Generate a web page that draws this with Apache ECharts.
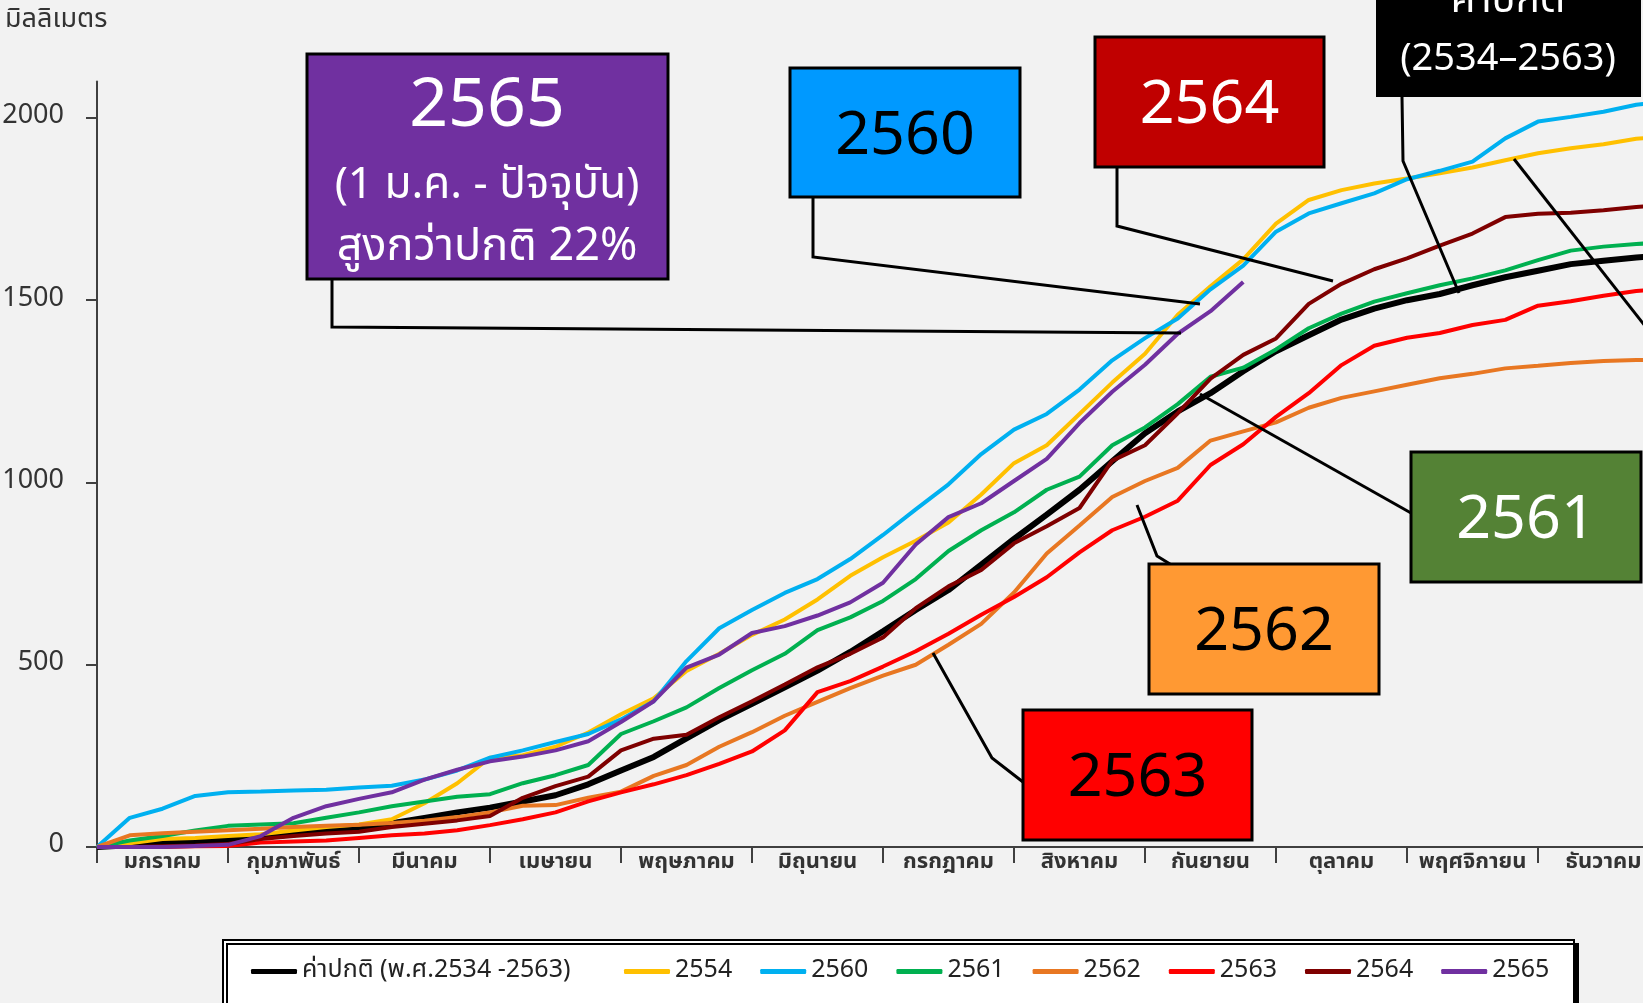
<!DOCTYPE html>
<html>
<head>
<meta charset="utf-8">
<script src="https://cdn.jsdelivr.net/npm/echarts@6/dist/echarts.min.js"></script>
<style>
  html, body { margin: 0; padding: 0; background: #f2f2f2; }
  #chart { width: 1643px; height: 1003px; }
</style>
</head>
<body>
<div id="chart"></div>
<script>
const FONT = "'Noto Sans Thai', 'Noto Sans', 'Open Sans', sans-serif"

const MONTHS = ['มกราคม','กุมภาพันธ์','มีนาคม','เมษายน','พฤษภาคม','มิถุนายน',
  'กรกฎาคม','สิงหาคม','กันยายน','ตุลาคม','พฤศจิกายน','ธันวาคม']
const Y_TICKS = [0, 500, 1000, 1500, 2000]

// position along the year in months (0 = 1 Jan, 12 = 31 Dec)
const MONTH_POS = [0,0.25,0.5,0.75,1,1.25,1.5,1.75,2,2.25,2.5,2.75,3,3.25,3.5,3.75,
  4,4.25,4.5,4.75,5,5.25,5.5,5.75,6,6.25,6.5,6.75,7,7.25,7.5,7.75,
  8,8.25,8.5,8.75,9,9.25,9.5,9.75,10,10.25,10.5,10.75,11,11.25,11.5,11.75,12]

// cumulative rainfall, mm
const NORMAL = [0,5,10,15, 20,27,35,43, 52,65,80,95, 108,125,142,172, 210,247,298,348,
  393,438,484,535, 592,650,705,775, 845,912,980,1058, 1135,1195,1245,1305,
  1360,1404,1447,1477, 1500,1517,1541,1563, 1581,1599,1608,1617, 1625]
const Y2554 = [0,10,22,25, 30,35,45,55, 62,76,120,175, 245,252,275,314, 364,408,483,530,
  582,624,679,744, 795,840,890,967, 1053,1102,1188,1274, 1353,1460,1538,1612,
  1710,1775,1802,1820, 1834,1848,1864,1884, 1903,1917,1928,1943, 1950]
const Y2560 = [0,80,105,140, 150,152,155,157, 163,168,185,210, 245,265,288,310, 350,400,510,600,
  650,697,735,790, 856,926,995,1078, 1145,1188,1255,1335, 1396,1450,1530,1595,
  1688,1738,1766,1793, 1832,1855,1880,1944, 1990,2003,2017,2036, 2048]
const Y2561 = [0,18,30,45, 58,62,65,80, 95,112,125,138, 145,175,197,225, 310,345,383,436,
  485,530,595,630, 675,735,812,869, 918,980,1016,1102, 1151,1215,1290,1315,
  1365,1423,1463,1496, 1519,1541,1560,1582, 1610,1636,1647,1654, 1660]
const Y2562 = [0,32,38,42, 46,50,55,58, 61,66,72,82, 95,113,115,135, 152,195,225,275,
  315,360,398,436, 470,500,555,612, 698,805,882,960, 1004,1040,1115,1140,
  1165,1205,1232,1250, 1268,1286,1298,1313, 1320,1328,1333,1336, 1337]
const Y2563 = [0,0,0,2, 3,12,15,18, 25,32,37,46, 60,76,95,125, 150,172,197,228,
  262,320,425,455, 495,537,585,637, 686,740,808,869, 906,950,1048,1105,
  1180,1245,1322,1375, 1397,1410,1432,1446, 1485,1497,1512,1525, 1532]
const Y2564 = [0,0,2,4, 8,22,30,37, 42,55,64,73, 85,135,167,193, 265,297,308,356,
  400,446,493,530, 575,655,715,760, 833,880,930,1060, 1102,1190,1285,1350,
  1395,1490,1545,1585, 1615,1650,1683,1728, 1737,1740,1747,1756, 1762]
const Y2565 = [0,0,0,3, 6,30,80,112, 132,150,185,212, 235,248,265,290, 343,400,492,528,
  587,606,635,671, 725,830,905,943, 1004,1065,1163,1249, 1323,1408,1470,1550]

const SERIES = [
  { name: 'ค่าปกติ (พ.ศ.2534 -2563)', values: NORMAL, color: '#000000', width: 6 },
  { name: '2554', values: Y2554, color: '#ffc000', width: 4 },
  { name: '2560', values: Y2560, color: '#00b0f0', width: 4 },
  { name: '2561', values: Y2561, color: '#00b050', width: 4 },
  { name: '2562', values: Y2562, color: '#e87722', width: 4 },
  { name: '2563', values: Y2563, color: '#ff0000', width: 4 },
  { name: '2564', values: Y2564, color: '#7f0000', width: 4 },
  { name: '2565', values: Y2565, color: '#7030a0', width: 4 },
]

function label(x, y, text, size, color) {
  return {
    type: 'text', z: 70, x, y,
    style: { text, fill: color, font: `${size}px ${FONT}`, textAlign: 'center', textVerticalAlign: 'middle' },
  }
}
// boxed year tag: rectangle plus centred number
function box(x, y, w, h, fill, text, color) {
  return [
    { type: 'rect', z: 60, shape: { x, y, width: w, height: h }, style: { fill, stroke: '#000', lineWidth: 3 } },
    label(x + w / 2, y + h / 2 + 9, text, 61, color),
  ]
}
function leader(points) {
  return { type: 'polyline', z: 55, shape: { points }, style: { stroke: '#000', lineWidth: 3, fill: null } }
}
function legendPart(left, names, gap) {
  return {
    left, top: 959, padding: 0,
    icon: 'roundRect', itemWidth: 46, itemHeight: 5, itemGap: gap,
    textStyle: { fontSize: 25, color: '#222', fontFamily: FONT },
    data: names,
  }
}

const chart = echarts.init(document.getElementById('chart'))

chart.setOption({
  backgroundColor: '#f2f2f2',
  animation: false,
  grid: { left: 97, right: -26, top: 81.5, bottom: 156, outerBoundsMode: 'none', containLabel: false },
  xAxis: [
    {
      type: 'value', min: 0, max: 12, interval: 1,
      axisLine: { lineStyle: { color: '#404040', width: 2 } },
      axisTick: { length: 16, lineStyle: { color: '#404040', width: 2 } },
      axisLabel: { show: false },
      splitLine: { show: false },
    },
    {
      type: 'category', position: 'bottom', data: MONTHS, boundaryGap: true,
      axisLine: { show: false }, axisTick: { show: false },
      axisLabel: { interval: 0, margin: 6, fontSize: 22, fontWeight: 'bold', color: '#333', fontFamily: FONT },
    },
  ],
  yAxis: {
    type: 'value', min: 0, max: 2100,
    axisLine: { show: true, lineStyle: { color: '#404040', width: 2 } },
    axisTick: { show: true, length: 11, customValues: Y_TICKS, lineStyle: { color: '#404040', width: 2 } },
    axisLabel: {
      customValues: Y_TICKS, margin: 33, fontSize: 27, color: '#333', fontFamily: FONT,
      formatter: v => String(v),
    },
    splitLine: { show: false },
  },
  legend: [
    legendPart(251, [SERIES[0].name], 30),
    legendPart(624, SERIES.slice(1).map(s => s.name), 28),
  ],
  series: SERIES.map(s => ({
    name: s.name,
    type: 'line',
    xAxisIndex: 0,
    showSymbol: false,
    color: s.color,
    lineStyle: { color: s.color, width: s.width },
    data: s.values.map((v, i) => [MONTH_POS[i], v]),
  })),
  graphic: [
    { type: 'text', x: 5, y: 22, style: { text: 'มิลลิเมตร', fill: '#333', font: `27px ${FONT}`, textVerticalAlign: 'middle' } },
    // legend frame
    {
      type: 'rect', z: 1, shape: { x: 223, y: 940, width: 1351, height: 80 },
      style: { fill: '#fff', stroke: '#000', lineWidth: 2, shadowColor: '#000', shadowOffsetX: 4, shadowOffsetY: 4, shadowBlur: 0 },
    },
    // leader lines
    leader([[332, 279], [332, 327], [1181, 333]]),
    leader([[813, 197], [813, 257], [1200, 304]]),
    leader([[1117, 167], [1117, 226], [1333, 281]]),
    leader([[1402, 97], [1403, 161], [1459, 293]]),
    leader([[1411, 513], [1200, 394]]),
    leader([[1137, 505], [1157, 556], [1170, 564]]),
    leader([[933, 653], [992, 758], [1023, 782]]),
    leader([[1514, 159], [1660, 345]]),
    // callout boxes
    { type: 'rect', z: 60, shape: { x: 307, y: 54, width: 361, height: 225 }, style: { fill: '#7030a0', stroke: '#000', lineWidth: 3 } },
    label(487, 112, '2565', 68, '#fff'),
    label(487, 189, '(1 ม.ค. - ปัจจุบัน)', 44, '#fff'),
    label(487, 251, 'สูงกว่าปกติ 22%', 45, '#fff'),
    ...box(790, 68, 230, 129, '#0099ff', '2560', '#000'),
    ...box(1095, 37, 229, 130, '#c00000', '2564', '#fff'),
    ...box(1411, 452, 230, 130, '#548235', '2561', '#fff'),
    ...box(1149, 564, 230, 130, '#ff9933', '2562', '#000'),
    ...box(1023, 710, 229, 130, '#ff0000', '2563', '#000'),
    { type: 'rect', z: 60, shape: { x: 1376, y: -60, width: 265, height: 157 }, style: { fill: '#000' } },
    label(1508, 4, 'ค่าปกติ', 40, '#fff'),
    label(1508, 62, '(2534–2563)', 38, '#fff'),
  ],
})
</script>
</body>
</html>
